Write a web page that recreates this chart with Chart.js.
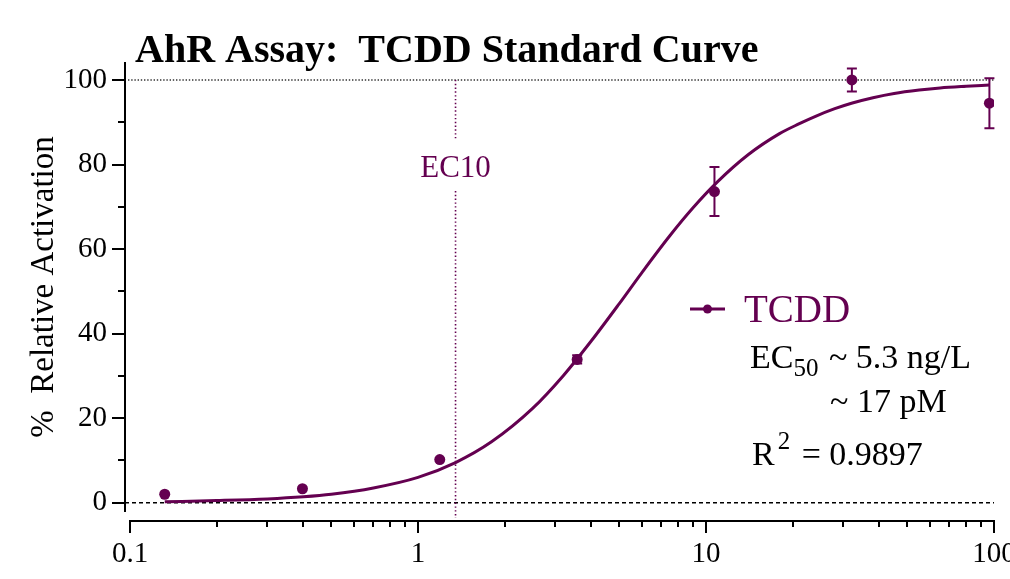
<!DOCTYPE html>
<html>
<head>
<meta charset="utf-8">
<script src="https://cdn.jsdelivr.net/npm/chart.js@4/dist/chart.umd.min.js"></script>
<style>
  html,body{margin:0;padding:0;background:#fff;overflow:hidden;}
  canvas{display:block;}
</style>
</head>
<body>
<canvas id="curve" width="1010" height="579"></canvas>
<script>
// --- DATA ---
const doses   = [0.132, 0.397, 1.19, 3.57, 10.7, 32.1, 96.4];      // ng/L
const meanAct = [2.0, 3.3, 10.2, 33.9, 73.6, 100.0, 94.5];         // % relative activation
const sdAct   = [0, 0, 0, 1.0, 5.8, 2.7, 5.9];

// fitted curve
const fitX = [0.132, 0.2, 0.3, 0.4, 0.5, 0.7, 1, 1.35, 1.8, 2.5, 3.2, 4, 5, 6, 7.5, 9, 11, 14, 18, 21, 24, 28, 32, 38, 45, 55, 65, 80, 96.4];
const fitY = [0.2, 0.5, 0.9, 1.4, 2.0, 3.5, 6.0, 9.5, 14.4, 22.3, 30.1, 38.3, 47.1, 54.5, 63.2, 69.7, 76.0, 82.3, 87.3, 89.6, 91.4, 93.2, 94.5, 95.8, 96.8, 97.6, 98.1, 98.5, 98.8];

const xTickVals = [0.1, 1, 10, 100];
const xMinorVals = [0.2,0.3,0.4,0.5,0.6,0.7,0.8,0.9, 2,3,4,5,6,7,8,9, 20,30,40,50,60,70,80,90];
const yTickVals = [0, 20, 40, 60, 80, 100];
const yMinorVals = [10, 30, 50, 70, 90];

const ec10 = 1.35;
const seriesName = 'TCDD';
const titleText = 'AhR Assay:  TCDD Standard Curve';

const PURPLE = '#640050';
const SERIF = '"Liberation Serif", "Times New Roman", serif';

// --- PLUGINS ---
const refLines = {
  id:'refLines',
  beforeDatasetsDraw(chart){
    const {ctx, scales:{x, y}} = chart;
    const x0 = x.getPixelForValue(0.1), x1 = x.getPixelForValue(100);
    ctx.save();
    // dotted 100% line
    ctx.strokeStyle = '#333'; ctx.lineWidth = 1.4; ctx.setLineDash([1.4, 1.8]);
    ctx.beginPath(); ctx.moveTo(x0 - 2, y.getPixelForValue(100)); ctx.lineTo(x1, y.getPixelForValue(100)); ctx.stroke();
    // dashed zero line
    ctx.strokeStyle = '#000'; ctx.lineWidth = 1.4; ctx.setLineDash([4, 3]);
    ctx.beginPath(); ctx.moveTo(x0 - 5, y.getPixelForValue(0)); ctx.lineTo(x1, y.getPixelForValue(0)); ctx.stroke();
    // EC10 vertical, broken around its label
    const ex = x.getPixelForValue(ec10);
    ctx.strokeStyle = PURPLE; ctx.lineWidth = 1.6; ctx.setLineDash([1.4, 2.4]);
    ctx.beginPath();
    ctx.moveTo(ex, y.getPixelForValue(100)); ctx.lineTo(ex, 140);
    ctx.moveTo(ex, 191); ctx.lineTo(ex, y.bottom + 6);
    ctx.stroke();
    ctx.setLineDash([]);
    ctx.fillStyle = PURPLE; ctx.font = '31px ' + SERIF; ctx.textAlign = 'center'; ctx.textBaseline = 'alphabetic';
    ctx.fillText('EC10', ex, 177);
    ctx.restore();
  }
};

const errorBars = {
  id:'errorBars',
  afterDatasetsDraw(chart){
    const {ctx, scales:{x, y}} = chart;
    ctx.save();
    ctx.strokeStyle = PURPLE; ctx.lineWidth = 2;
    doses.forEach((d, i) => {
      if(!sdAct[i]) return;
      const px = x.getPixelForValue(d);
      const hi = y.getPixelForValue(meanAct[i] + sdAct[i]);
      const lo = y.getPixelForValue(meanAct[i] - sdAct[i]);
      ctx.beginPath();
      ctx.moveTo(px, hi); ctx.lineTo(px, lo);
      ctx.moveTo(px - 5, hi); ctx.lineTo(px + 5, hi);
      ctx.moveTo(px - 5, lo); ctx.lineTo(px + 5, lo);
      ctx.stroke();
    });
    ctx.restore();
  }
};

const axesFrame = {
  id:'axesFrame',
  afterDraw(chart){
    const {ctx, scales:{x, y}} = chart;
    const yAxisX = x.left - 5, xAxisY = y.bottom + 9;
    ctx.save();
    ctx.strokeStyle = '#000'; ctx.lineWidth = 2; ctx.lineCap = 'butt';
    ctx.beginPath();
    ctx.moveTo(yAxisX, y.top); ctx.lineTo(yAxisX, y.bottom);
    yTickVals.forEach(v => { const p = Math.round(y.getPixelForValue(v)); ctx.moveTo(yAxisX - 13, p); ctx.lineTo(yAxisX, p); });
    yMinorVals.forEach(v => { const p = Math.round(y.getPixelForValue(v)); ctx.moveTo(yAxisX - 7, p); ctx.lineTo(yAxisX, p); });
    ctx.moveTo(x.left - 1, xAxisY); ctx.lineTo(x.right + 1, xAxisY);
    xTickVals.forEach(v => { const p = Math.round(x.getPixelForValue(v)); ctx.moveTo(p, xAxisY); ctx.lineTo(p, xAxisY + 12); });
    xMinorVals.forEach(v => { const p = Math.round(x.getPixelForValue(v)); ctx.moveTo(p, xAxisY); ctx.lineTo(p, xAxisY + 6); });
    ctx.stroke();

    // title
    ctx.fillStyle = '#000'; ctx.font = 'bold 40px ' + SERIF;
    ctx.textAlign = 'left'; ctx.textBaseline = 'alphabetic';
    ctx.fillText(titleText, 135, 62);

    // legend
    ctx.strokeStyle = PURPLE; ctx.lineWidth = 3;
    ctx.beginPath(); ctx.moveTo(690, 309); ctx.lineTo(725, 309); ctx.stroke();
    ctx.fillStyle = PURPLE;
    ctx.beginPath(); ctx.arc(707.5, 309, 4.5, 0, Math.PI * 2); ctx.fill();
    ctx.font = '39px ' + SERIF;
    ctx.fillText(seriesName, 744, 322);

    // fit notes
    ctx.fillStyle = '#000';
    let cx = 750;
    ctx.font = '34px ' + SERIF; ctx.fillText('EC', cx, 368); cx += ctx.measureText('EC').width;
    ctx.font = '25px ' + SERIF; ctx.fillText('50', cx, 376); cx += ctx.measureText('50').width + 2;
    ctx.font = '34px ' + SERIF; ctx.fillText(' ~ 5.3 ng/L', cx, 368);
    ctx.fillText('~ 17 pM', 830, 412);
    cx = 752;
    ctx.fillText('R', cx, 465); cx += ctx.measureText('R').width + 3;
    ctx.font = '25px ' + SERIF; ctx.fillText('2', cx, 449); cx += ctx.measureText('2').width + 3;
    ctx.font = '34px ' + SERIF; ctx.fillText(' = 0.9897', cx, 465);
    ctx.restore();
  }
};

// --- CHART ---
const ctx = document.getElementById('curve').getContext('2d');
const chart = new Chart(ctx, {
  type:'scatter',
  data:{
    datasets:[
      {
        label:'fit',
        data: fitX.map((v, i) => ({x:v, y:fitY[i]})),
        showLine:true, borderColor:PURPLE, borderWidth:3,
        pointRadius:0, cubicInterpolationMode:'monotone', order:2
      },
      {
        label:seriesName,
        data: doses.map((v, i) => ({x:v, y:meanAct[i]})),
        showLine:false, pointRadius:5.5, pointBackgroundColor:PURPLE,
        pointBorderColor:PURPLE, pointBorderWidth:0, order:1
      }
    ]
  },
  options:{
    responsive:false,
    animation:false,
    layout:{padding:{top:62, right:16, bottom:0, left:0}},
    plugins:{legend:{display:false}, tooltip:{enabled:false}, title:{display:false}},
    scales:{
      x:{
        type:'logarithmic', min:0.1, max:100, position:'bottom',
        grid:{display:false, drawTicks:false}, border:{display:false},
        afterBuildTicks:(s)=>{ s.ticks = xTickVals.map(v => ({value:v, major:true})); },
        afterFit:(s)=>{ s.height = 67; s.paddingLeft = 0; s.paddingRight = 0; },
        ticks:{
          color:'#000', padding:25, maxRotation:0, autoSkip:false,
          font:{family:SERIF, size:29},
          callback:(v)=>String(v)
        }
      },
      y:{
        type:'linear', min:-2.2, max:104.25,
        grid:{display:false, drawTicks:false}, border:{display:false},
        afterBuildTicks:(s)=>{ s.ticks = yTickVals.map(v => ({value:v})); },
        afterFit:(s)=>{ s.width = 130; s.paddingTop = 0; s.paddingBottom = 0; },
        ticks:{color:'#000', padding:23, font:{family:SERIF, size:29}},
        title:{
          display:true, text:'%  Relative Activation', color:'#000',
          font:{family:SERIF, size:33}, padding:{top:25, bottom:0}
        }
      }
    }
  },
  plugins:[refLines, errorBars, axesFrame]
});
</script>
</body>
</html>
